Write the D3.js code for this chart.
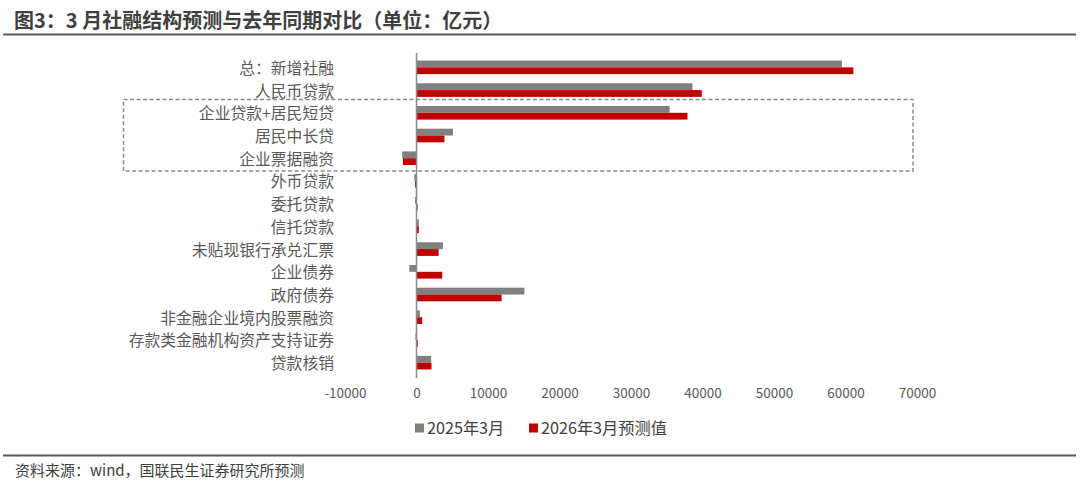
<!DOCTYPE html>
<html>
<head>
<meta charset="utf-8">
<script src="https://cdn.jsdelivr.net/npm/d3@7/dist/d3.min.js"></script>
<style>
  body { margin: 0; background: #fff; }
  svg { font-family: "Noto Sans CJK SC", "Noto Sans", sans-serif; }
</style>
</head>
<body>
<div id="chart"></div>
<script>
// categories and values (亿元)
const categories = ["总：新增社融", "人民币贷款", "企业贷款+居民短贷", "居民中长贷", "企业票据融资",
    "外币贷款", "委托贷款", "信托贷款", "未贴现银行承兑汇票", "企业债券", "政府债券",
    "非金融企业境内股票融资", "存款类金融机构资产支持证券", "贷款核销"];
const values2025 = [59500, 38600, 35400, 5100, -2000, -300, -200, 330, 3700, -1000, 15100, 470, -150, 2050];
const values2026 = [61100, 39900, 37900, 3900, -1900, -200, 150, 330, 3100, 3600, 11900, 800, 190, 2100];
const xTicks = [-10000, 0, 10000, 20000, 30000, 40000, 50000, 60000, 70000];
const seriesNames = ["2025年3月", "2026年3月预测值"];
const boxedCats = ["企业贷款+居民短贷", "企业票据融资"];

const width = 1080, height = 484;
const colors = ["#808080", "#c00000"];

let svg = d3.select("#chart").append("svg")
    .attr("width", width)
    .attr("height", height);

// title + rules
svg.append("text")
    .attr("x", 14).attr("y", 27.5)
    .attr("font-size", 20).attr("font-weight", "bold")
    .attr("fill", "#404040")
    .text("图3：3 月社融结构预测与去年同期对比（单位：亿元）");
svg.append("line")
    .attr("x1", 3).attr("x2", 1076).attr("y1", 34.5).attr("y2", 34.5)
    .attr("stroke", "#595959").attr("stroke-width", 2);
svg.append("line")
    .attr("x1", 3).attr("x2", 1076).attr("y1", 455.5).attr("y2", 455.5)
    .attr("stroke", "#595959").attr("stroke-width", 2);
svg.append("text")
    .attr("x", 15).attr("y", 476)
    .attr("font-size", 15).attr("fill", "#404040")
    .text("资料来源：wind，国联民生证券研究所预测");

let x = d3.scaleLinear().domain([-10000, 70000]).range([345, 917]);
let y = d3.scaleBand().domain(categories).range([56, 374]).paddingInner(0.4).paddingOuter(0.2);
let ySub = d3.scaleBand().domain([0, 1]).range([0, y.bandwidth()]);

// bars
let groups = svg.selectAll("g.cat")
    .data(categories)
    .enter().append("g")
    .attr("class", "cat")
    .attr("transform", d => "translate(0," + y(d) + ")");

groups.selectAll("rect")
    .data((d, i) => [values2025[i], values2026[i]])
    .enter().append("rect")
    .attr("x", d => x(Math.min(0, d)))
    .attr("width", d => Math.abs(x(d) - x(0)))
    .attr("y", (d, j) => ySub(j))
    .attr("height", ySub.bandwidth())
    .attr("fill", (d, j) => colors[j]);

// zero line
svg.append("line")
    .attr("x1", x(0)).attr("x2", x(0))
    .attr("y1", 53).attr("y2", 378)
    .attr("stroke", "#8c8c8c").attr("stroke-width", 1.5);

// category labels
let yAxis = svg.append("g")
    .attr("transform", "translate(334,1.5)")
    .call(d3.axisLeft(y).tickSize(0).tickPadding(0));
yAxis.select(".domain").remove();
yAxis.selectAll("text")
    .attr("font-size", 15.8)
    .attr("fill", "#595959")
    .style("font-family", "\"Noto Sans CJK SC\", sans-serif");

// value ticks
let xAxis = svg.append("g")
    .attr("transform", "translate(0,381)")
    .call(d3.axisBottom(x).tickValues(xTicks).tickSize(0).tickPadding(7).tickFormat(d => String(d)));
xAxis.select(".domain").remove();
xAxis.selectAll("text")
    .attr("font-size", 13.5)
    .attr("fill", "#595959")
    .style("font-family", "\"Noto Sans CJK SC\", sans-serif");

// dashed box round the loan breakdown
let boxTop = y(boxedCats[0]) - y.step() * y.paddingInner() / 2 - 2;
let boxBottom = y(boxedCats[1]) + y.bandwidth() + y.step() * y.paddingInner() / 2 + 1.5;
svg.append("rect")
    .attr("x", 123.5).attr("y", boxTop)
    .attr("width", 913 - 123.5).attr("height", boxBottom - boxTop)
    .attr("fill", "none")
    .attr("stroke", "#8c8c8c")
    .attr("stroke-width", 1.5)
    .attr("stroke-dasharray", "4,2.5");

// legend
let legendX = [415, 529];
let legend = svg.selectAll("g.legend")
    .data(seriesNames)
    .enter().append("g")
    .attr("class", "legend")
    .attr("transform", (d, i) => "translate(" + legendX[i] + ",428)");
legend.append("rect")
    .attr("x", 0).attr("y", -4.5)
    .attr("width", 9).attr("height", 9)
    .attr("fill", (d, i) => colors[i]);
legend.append("text")
    .attr("x", 12).attr("dy", "0.35em")
    .attr("font-size", 16.2)
    .attr("fill", "#404040")
    .text(d => d);
</script>
</body>
</html>
